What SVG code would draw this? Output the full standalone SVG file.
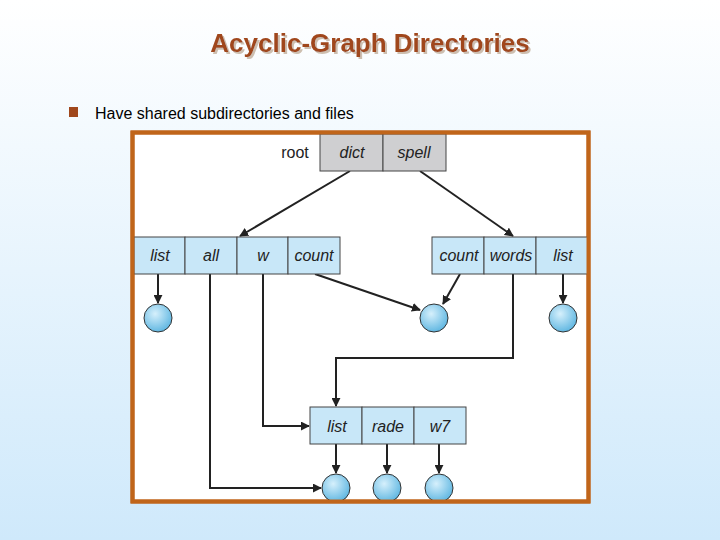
<svg xmlns="http://www.w3.org/2000/svg" width="720" height="540" viewBox="0 0 720 540">
<defs>
<linearGradient id="bg" x1="0" y1="0" x2="0" y2="1"><stop offset="0" stop-color="#ffffff"/><stop offset="1" stop-color="#cfe9fb"/></linearGradient>
<radialGradient id="ball" cx="0.4" cy="0.35" r="0.7"><stop offset="0" stop-color="#d6f0fc"/><stop offset="1" stop-color="#5ab4e0"/></radialGradient>
<marker id="ah" viewBox="0 0 10 10" refX="9" refY="5" markerWidth="9" markerHeight="9" markerUnits="userSpaceOnUse" orient="auto"><path d="M0,0 L10,5 L0,10 z" fill="#222"/></marker>
<clipPath id="fc"><rect x="134" y="134" width="453" height="366"/></clipPath>
<filter id="sh" x="-5%" y="-20%" width="110%" height="150%"><feDropShadow dx="2" dy="2" stdDeviation="0.5" flood-color="#c8b8a8" flood-opacity="0.9"/></filter>
</defs>
<style>
.c{fill:#c8e7f8;stroke:#444;stroke-width:1}
.g{fill:#cfcfd1;stroke:#444;stroke-width:1}
.t{font-family:"Liberation Sans",Arial,sans-serif;font-size:16px;font-style:italic;fill:#222;text-anchor:middle}
.ln{fill:none;stroke:#222;stroke-width:2;marker-end:url(#ah)}
.b{fill:url(#ball);stroke:#333;stroke-width:1}
</style>
<rect width="720" height="540" fill="url(#bg)"/>
<text x="370" y="52" font-family="Liberation Sans,Arial,sans-serif" font-size="26" font-weight="bold" fill="#a0471c" text-anchor="middle" filter="url(#sh)">Acyclic-Graph Directories</text>
<rect x="69" y="107" width="9" height="10" fill="#a0471c"/>
<text x="95" y="119" font-family="Liberation Sans,Arial,sans-serif" font-size="16" fill="#000">Have shared subdirectories and files</text>
<rect x="132.5" y="132.5" width="456" height="369" fill="#fff" stroke="#c0651a" stroke-width="4"/>
<g clip-path="url(#fc)">
<g id="connectors">
<path class="ln" d="M350,171 L240,236"/>
<path class="ln" d="M420,171 L513,236"/>
<path class="ln" d="M315,274 L420,310"/>
<path class="ln" d="M460,274 L443,304"/>
<path class="ln" d="M158,274 L158,303"/>
<path class="ln" d="M563,274 L563,303"/>
<path class="ln" d="M210,274 L210,488 L321,488"/>
<path class="ln" d="M263,274 L263,426 L309,426"/>
<path class="ln" d="M513,274 L513,358 L336,358 L336,406"/>
<path class="ln" d="M336,444 L336,473"/>
<path class="ln" d="M387,444 L387,473"/>
<path class="ln" d="M439,444 L439,473"/>
</g>
<g id="root"><text x="295" y="158" font-family="Liberation Sans,Arial,sans-serif" font-size="16" fill="#222" text-anchor="middle">root</text>
<rect class="g" x="320" y="134" width="63" height="37"/><rect class="g" x="383" y="134" width="63" height="37"/>
<text class="t" x="352" y="158">dict</text><text class="t" x="414" y="158">spell</text></g>
<g id="dictdir">
<rect class="c" x="134" y="237" width="51" height="37"/><rect class="c" x="185" y="237" width="52" height="37"/><rect class="c" x="237" y="237" width="51" height="37"/><rect class="c" x="288" y="237" width="52" height="37"/>
<text class="t" x="160" y="261">list</text><text class="t" x="211" y="261">all</text><text class="t" x="263" y="261">w</text><text class="t" x="314" y="261">count</text></g>
<g id="spelldir">
<rect class="c" x="432" y="237" width="52" height="37"/><rect class="c" x="484" y="237" width="52" height="37"/><rect class="c" x="536" y="237" width="54" height="37"/>
<text class="t" x="459" y="261">count</text><text class="t" x="511" y="261">words</text><text class="t" x="563" y="261">list</text></g>
<g id="listdir">
<rect class="c" x="310" y="407" width="52" height="37"/><rect class="c" x="362" y="407" width="52" height="37"/><rect class="c" x="414" y="407" width="52" height="37"/>
<text class="t" x="337" y="432">list</text><text class="t" x="388" y="432">rade</text><text class="t" x="440" y="432">w7</text></g>
<g id="files">
<circle class="b" cx="158" cy="318" r="14"/><circle class="b" cx="434" cy="318" r="14"/><circle class="b" cx="563" cy="318" r="14"/>
<circle class="b" cx="336" cy="488" r="14"/><circle class="b" cx="387" cy="488" r="14"/><circle class="b" cx="439" cy="488" r="14"/></g>
</g>
<rect x="132.5" y="132.5" width="456" height="369" fill="none" stroke="#c0651a" stroke-width="4"/>
</svg>
